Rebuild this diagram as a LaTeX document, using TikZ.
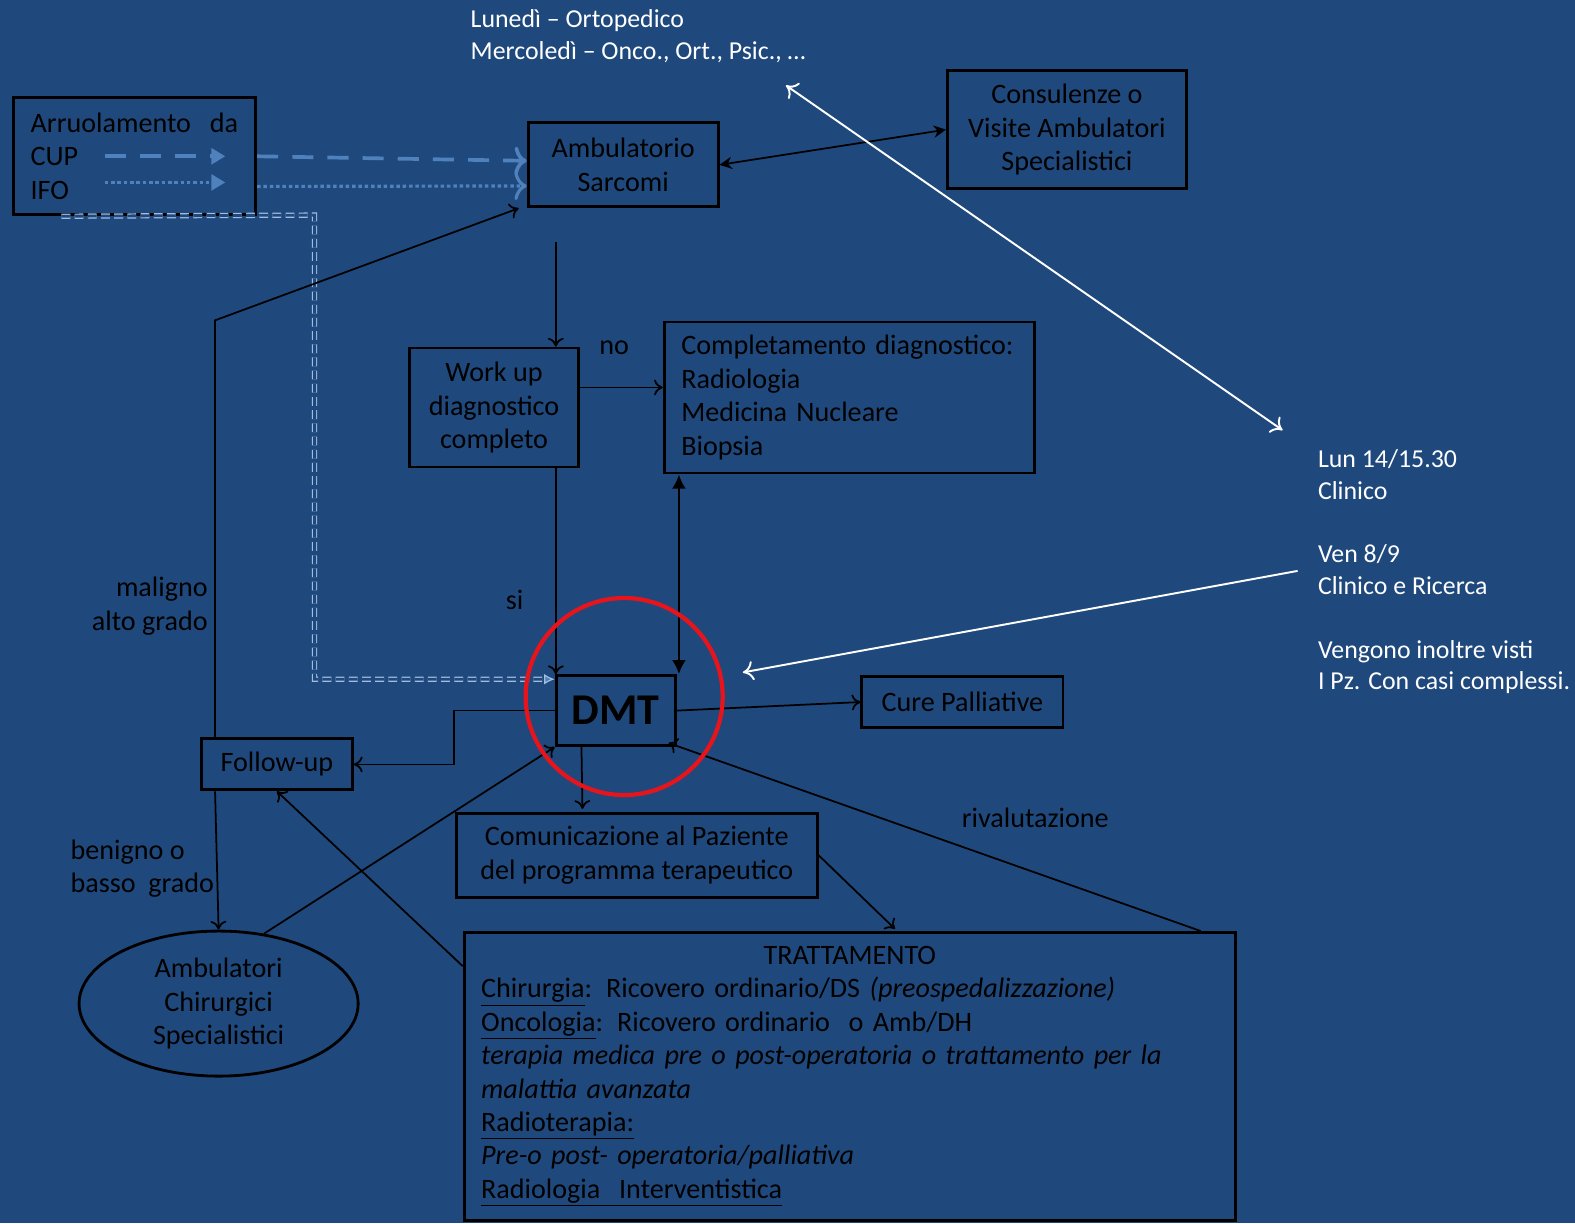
\documentclass[tikz,border=0pt]{standalone}
\usepackage{fontspec}
\setmainfont{Carlito}
\usetikzlibrary{calc,shapes.geometric,arrows.meta}

\definecolor{slidebg}{HTML}{1F497D}
\definecolor{cupblue}{HTML}{4F81BD}
\definecolor{ifoblue}{HTML}{A3BDE0}
\definecolor{ringred}{HTML}{E8141B}

\newcommand{\boxfont}{\fontsize{16}{19}\selectfont}
\newcommand{\notefont}{\fontsize{14.7}{18.1}\selectfont}

\tikzset{
  unit/.style={draw=black, line width=1.6pt, text=black, font=\boxfont, align=center, inner sep=0pt},
  listbox/.style={unit, align=left, inner xsep=0.34cm},
  lbl/.style={text=black, font=\boxfont, inner sep=0pt},
  note/.style={text=white, font=\notefont, align=left, inner sep=0pt},
  link/.style={draw=black, line width=1pt, -{To[length=5pt,width=9pt]}},
  whitelink/.style={draw=white, line width=1.1pt, {To[length=6pt,width=11pt]}-{To[length=6pt,width=11pt]}},
  cupline/.style={draw=cupblue, line width=2.1pt, dash pattern=on 12pt off 8pt},
  ifodots/.style={draw=cupblue, line width=1.8pt, dash pattern=on 2pt off 1.6pt},
}

\begin{document}
\begin{tikzpicture}[x=0.0201cm, y=-0.0201cm]
% slide background
\fill[slidebg] (0,0) rectangle (1567,1217);
\useasboundingbox (0,0) rectangle (1567,1217);

% boxes
\node[listbox, text width=4.16cm, minimum height=2.34cm] (arr) at (134,155.5) {Arruolamento\ \ da\\CUP\\IFO};
\node[unit, minimum width=3.8cm, minimum height=1.68cm] (sarc) at (620,164) {Ambulatorio\\Sarcomi};
\node[unit, minimum width=4.78cm, minimum height=2.36cm] (cons) at (1061.5,129) {Consulenze o\\Visite Ambulatori\\Specialistici};
\node[unit, minimum width=3.38cm, minimum height=2.38cm] (work) at (491.5,405.5) {Work up\\diagnostico\\completo};
\node[listbox, text width=6.72cm, minimum height=3.02cm] (compl) at (845,395.5) {Completamento diagnostico:\\Radiologia\\Medicina Nucleare\\Biopsia};
\node[unit, minimum width=2.38cm, minimum height=1.4cm, font=\fontsize{25}{30}\selectfont\bfseries] (dmt) at (612.5,707) {DMT};
\node[unit, minimum width=4.02cm, minimum height=1.02cm] (cure) at (957.5,698.5) {Cure Palliative};
\node[unit, minimum width=3.02cm, minimum height=1.02cm] (follow) at (275.5,760.5) {Follow-up};
\node[unit, minimum width=7.22cm, minimum height=1.68cm] (comm) at (633.5,851) {Comunicazione al Paziente\\del programma terapeutico};
\node[unit, ellipse, minimum width=5.58cm, minimum height=2.9cm] (ambc) at (217.5,998.5) {Ambulatori\\Chirurgici\\Specialistici};
\node[listbox, text width=14.74cm, minimum height=5.76cm] (tratt) at (845.5,1071) {\makebox[\hsize]{TRATTAMENTO}\\
  \underline{Chirurgia}: Ricovero ordinario/DS \textit{(preospedalizzazione)}\\
  \underline{Oncologia}: Ricovero ordinario\ \ o Amb/DH\\
  \textit{terapia medica pre o post-operatoria o trattamento per la}\\
  \textit{malattia avanzata}\\
  \underline{Radioterapia:}\\
  \textit{Pre-o post- operatoria/palliativa}\\
  \underline{Radiologia\ \ Interventistica}};

% white notes
\node[note, anchor=west] (lunmer) at (468,36) {Lunedì – Ortopedico\\Mercoledì – Onco., Ort., Psic., …};
\node[note, anchor=west] (notes) at (1311,569) {Lun 14/15.30\\Clinico\\[18pt]Ven 8/9\\Clinico e Ricerca\\[18pt]Vengono inoltre visti\\I Pz. Con casi complessi.};

% labels
\node[lbl] (no) at (611,346) {no};
\node[lbl] (si) at (512,597) {si};
\node[lbl, anchor=east, align=right] (malig) at (207,603) {maligno\\alto grado};
\node[lbl, anchor=west, align=left] (benig) at (70,864) {benigno o\\basso\ \ grado};
\node[lbl] (rival) at (1030,814) {rivalutazione};

% legend arrows in the enrolment box
\draw[cupline, -{Triangle[length=8pt,width=9pt]}] ($(arr.west)+(92,0)$) -- ++(120,0);
\draw[ifodots, -{Triangle[length=8pt,width=9pt]}] ($(arr.west)+(92,26)$) -- ++(120,0);

% enrolment paths
\draw[cupline, -{To[length=7pt,width=16pt]}] (arr.east) -- ($(sarc.west)+(0,-4)$);
\draw[ifodots, -{To[length=7pt,width=16pt]}] ($(arr.east)+(0,30)$) -- ($(sarc.west)+(0,21)$);
\coordinate (ifobend) at (313,214);
\draw[draw=ifoblue, line width=0.7pt, double=slidebg, double distance=1.6pt, dash pattern=on 5pt off 2.5pt, -{Latex[length=6pt,width=6pt,fill=cupblue]}]
  ($(arr.south west)+(49,0)$) -- (ifobend) |- ($(dmt.north west)+(0,5)$);

% connectors
\draw[draw=black, line width=1pt, {Stealth[length=7pt,width=7pt]}-{Stealth[length=7pt,width=7pt]}] (sarc.east) -- (cons.west);
\coordinate (wtop) at ($(sarc.south)+(-67,34)$);
\draw[link] (wtop) -- (wtop |- work.north);
\coordinate (wno) at ($(work.east)+(0,-20)$);
\draw[link] (wno) -- (wno -| compl.west);
\draw[link] (wtop |- work.south) -- (wtop |- dmt.north);
\coordinate (cd) at ($(compl.south west)+(16,0)$);
\draw[draw=black, line width=1.6pt, {Latex[length=8pt,width=8pt]}-{Latex[length=8pt,width=8pt]}] (cd) -- (cd |- dmt.north);
\draw[link] ($(follow.north west)+(15,0)$) -- ++(0,-415) -- ($(sarc.south west)+(-8,0)$);
\draw[link] (dmt.west) -- ++(-100,0) |- (follow.east);
\draw[link] ($(follow.south west)+(15,0)$) -- (ambc.north);
\draw[link] (ambc.57) -- (dmt.south west);
\draw[link] ($(tratt.north west)+(0,35)$) -- (follow.south);
\draw[link] ($(dmt.south)+(-34,0)$) -- ($(comm.north)+(-54,-3)$);
\draw[link] (comm.east) -- ($(tratt.north)+(45,-2)$);
\draw[link] ($(tratt.north east)+(-36,0)$) -- ($(dmt.south east)+(-8,-4)$);
\draw[link] (dmt.east) -- (cure.west);

% red ring round the DMT
\node[draw=ringred, line width=2.4pt, circle, minimum size=3.94cm, inner sep=0pt] (dmtring) at (621,693) {};

% white pointers
\coordinate (lunarr) at (782,85);
\coordinate (notearr) at (1276,428);
\draw[whitelink] (lunarr) -- (notearr);
\coordinate (venarr) at (1291,568);
\draw[draw=white, line width=1.1pt, -{To[length=6pt,width=11pt]}] (venarr) -- ($(dmtring.east)+(18,-24)$);
\end{tikzpicture}
\end{document}
